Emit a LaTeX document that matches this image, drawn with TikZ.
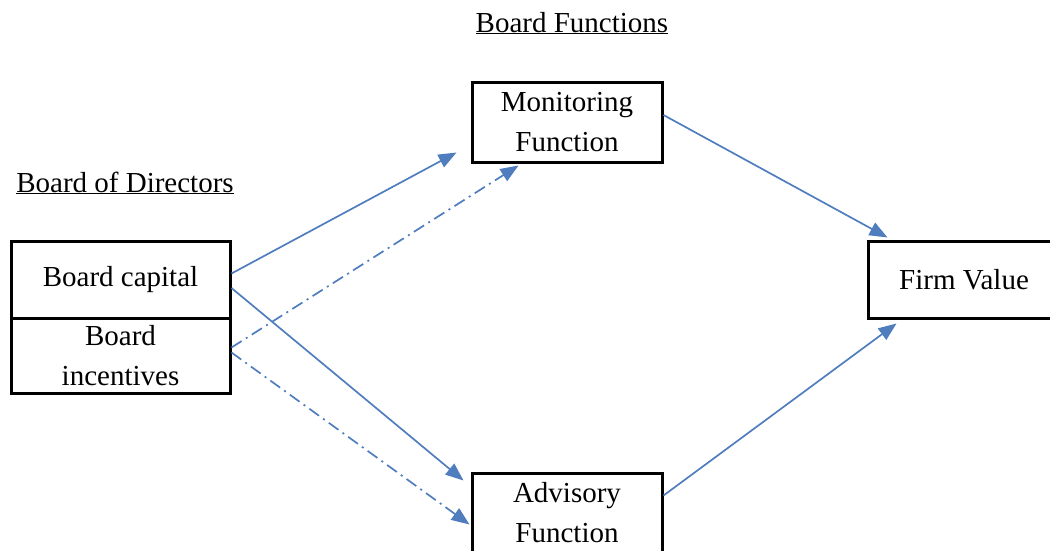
\documentclass[tikz,border=0pt]{standalone}
\usepackage{fontspec}
\setmainfont{Liberation Serif}
\usetikzlibrary{arrows.meta,calc}
\definecolor{arrblue}{RGB}{79,125,190}
\tikzset{
  box/.style={draw=black,line width=3pt,rectangle,inner sep=0pt,align=center,
    font=\fontsize{29}{40}\selectfont},
  title/.style={inner sep=0pt,font=\fontsize{29}{40}\selectfont,anchor=base},
  conn/.style={draw=arrblue,line width=1.7pt,-{Triangle[length=18pt,width=14pt]}},
  dashconn/.style={conn,dash pattern=on 12pt off 5pt on 2pt off 5pt},
}
\begin{document}
\begin{tikzpicture}[x=1pt,y=-1pt]
\useasboundingbox (0,0) rectangle (1050,550);
\clip (0,0) rectangle (1050,550);
% titles
\node[title] (t1) at (572,32) {\underline{Board Functions}};
\node[title] (t2) at (125,192) {\underline{Board of Directors}};
% boxes
\node[box,minimum width=219pt,minimum height=77pt] (cap) at (120.5,279.5) {Board capital};
\node[box,minimum width=219pt,minimum height=75pt] (inc) at (120.5,355.5) {Board\\incentives};
\node[box,minimum width=190pt,minimum height=80pt] (mon) at (567,122) {Monitoring\\Function};
\node[box,minimum width=190pt,minimum height=80pt] (adv) at (567,513) {Advisory\\Function};
\node[box,minimum width=192pt,minimum height=77pt] (fv) at (964,279.5) {Firm Value};
% connectors
\draw[conn] ([yshift=6pt]cap.east) -- ([xshift=-14pt,yshift=11pt]mon.south west);
\draw[conn] ([yshift=-8.5pt]cap.east) -- ([xshift=-7pt,yshift=-9pt]adv.north west);
\draw[dashconn] ([yshift=8pt]inc.east) -- ([xshift=48pt,yshift=-2pt]mon.south west);
\draw[dashconn] ([yshift=3pt]inc.east) -- ([xshift=-1pt,yshift=-53pt]adv.north west);
\draw[conn] ([yshift=7pt]mon.east) -- ([xshift=21pt,yshift=2pt]fv.north west);
\draw[conn] ([yshift=-24pt]adv.north east) -- ([xshift=30pt,yshift=-4pt]fv.south west);
\end{tikzpicture}
\end{document}
